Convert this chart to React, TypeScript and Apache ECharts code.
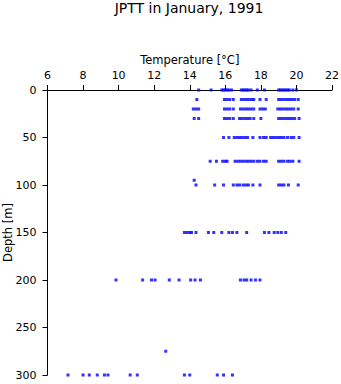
import React, { useEffect, useRef } from "react";
import * as echarts from "echarts";

const xTicks = [6, 8, 10, 12, 14, 16, 18, 20, 22];
const yTicks = [0, 50, 100, 150, 200, 250, 300];

const depths = [0, 10, 20, 30, 50, 75, 95, 100, 150, 200, 275, 300];

const t0 = [14.5, 15.2, 15.8, 15.9, 16.0, 16.1, 16.2, 16.35, 16.9, 17.0, 17.1, 17.2, 17.3, 17.45, 17.8, 18.2, 19.0, 19.1, 19.2, 19.3, 19.4, 19.5, 19.6, 19.8, 20.0];
const t10 = [14.4, 15.95, 16.1, 16.25, 16.45, 16.9, 17.05, 17.2, 17.35, 17.5, 17.6, 17.95, 18.3, 19.0, 19.15, 19.3, 19.45, 19.6, 19.75, 19.9, 20.1];
const t20 = [14.2, 14.35, 14.5, 15.95, 16.1, 16.25, 16.45, 16.85, 17.0, 17.15, 17.3, 17.45, 17.6, 17.95, 18.1, 18.25, 18.95, 19.1, 19.25, 19.4, 19.55, 19.7, 19.85, 20.1];
const t30 = [14.25, 14.5, 15.95, 16.1, 16.25, 16.45, 16.8, 16.95, 17.1, 17.25, 17.4, 17.6, 18.0, 19.0, 19.15, 19.3, 19.45, 19.6, 19.75, 19.9, 20.15];
const t50 = [15.9, 16.2, 16.5, 16.65, 16.8, 16.95, 17.1, 17.25, 17.55, 17.95, 18.15, 18.3, 18.55, 18.7, 18.85, 19.0, 19.15, 19.3, 19.5, 19.7, 19.85, 20.15];
const t75 = [15.15, 15.5, 15.85, 16.0, 16.1, 16.55, 16.7, 16.85, 17.0, 17.15, 17.3, 17.45, 17.6, 17.8, 17.95, 18.15, 18.3, 19.0, 19.15, 19.3, 19.5, 19.65, 19.8, 20.15];
const t95 = [14.25];
const t100 = [14.35, 15.4, 15.9, 16.45, 16.65, 16.8, 17.0, 17.15, 17.3, 17.55, 17.95, 19.0, 19.15, 19.3, 19.55, 20.1];
const t150 = [13.7, 13.85, 14.0, 14.1, 14.35, 15.05, 15.35, 15.8, 16.2, 16.4, 16.65, 17.2, 18.2, 18.45, 18.75, 18.95, 19.15, 19.4];
const t200 = [9.85, 11.35, 11.85, 12.05, 12.85, 13.4, 14.05, 14.3, 14.6, 16.85, 17.05, 17.2, 17.45, 17.7, 17.95];
const t275 = [12.65];
const t300 = [7.15, 8.0, 8.35, 8.8, 9.2, 9.4, 10.65, 11.05, 13.7, 14.0, 15.55, 15.9, 16.4];

const temps = [t0, t10, t20, t30, t50, t75, t95, t100, t150, t200, t275, t300];

const FONT = "DejaVu Sans";

export default function App() {
  const ref = useRef<HTMLDivElement>(null);
  useEffect(() => {
    if (!ref.current) return;
    const chart = echarts.init(ref.current, null, { renderer: "svg" });
    const data: number[][] = [];
    depths.forEach((d, i) => temps[i].forEach((t) => data.push([t, d])));
    chart.setOption({
      animation: false,
      title: {
        text: "JPTT in January, 1991",
        left: 189,
        textAlign: "center",
        top: 1,
        padding: 0,
        textStyle: { fontFamily: FONT, fontSize: 14, fontWeight: "normal", color: "#000" },
      },
      grid: { left: 47.5, top: 90, width: 284.5, height: 285, containLabel: false, outerBoundsMode: "none" },
      xAxis: {
        type: "value",
        position: "top",
        min: xTicks[0],
        max: xTicks[xTicks.length - 1],
        interval: 2,
        name: "Temperature [°C]",
        nameLocation: "middle",
        nameGap: 24,
        nameMoveOverlap: false,
        nameTextStyle: { fontFamily: FONT, fontSize: 11.5, color: "#000" },
        axisLine: { show: true, lineStyle: { color: "#000", width: 1 } },
        axisTick: { show: true, length: 5, lineStyle: { color: "#000" } },
        axisLabel: { fontFamily: FONT, fontSize: 11, color: "#000", margin: 9 },
        splitLine: { show: false },
      },
      yAxis: {
        type: "value",
        inverse: true,
        min: yTicks[0],
        max: yTicks[yTicks.length - 1],
        interval: 50,
        name: "Depth [m]",
        nameLocation: "middle",
        nameGap: 34,
        nameMoveOverlap: false,
        nameTextStyle: { fontFamily: FONT, fontSize: 11.5, color: "#000" },
        axisLine: { show: true, lineStyle: { color: "#000", width: 1 } },
        axisTick: { show: true, length: 5, lineStyle: { color: "#000" } },
        axisLabel: { fontFamily: FONT, fontSize: 11, color: "#000", margin: 11 },
        splitLine: { show: false },
      },
      series: [
        {
          type: "scatter",
          data,
          symbol: "rect",
          symbolSize: 3,
          itemStyle: { color: "#0000ff" },
        },
      ],
    });
    return () => chart.dispose();
  }, []);
  return <div ref={ref} style={{ width: 341, height: 384, position: "absolute", left: 0, top: 0 }} />;
}
